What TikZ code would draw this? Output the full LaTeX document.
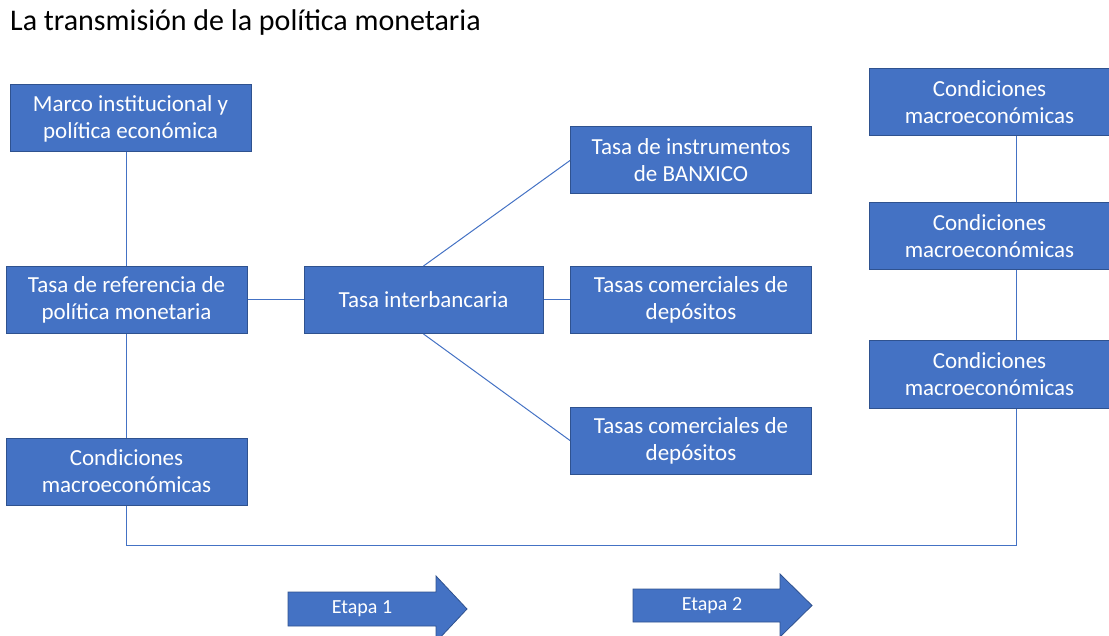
\documentclass[tikz,border=0pt]{standalone}
\usepackage{fontspec}
\setmainfont{Carlito}
\definecolor{boxblue}{HTML}{4472C4}
\definecolor{boxedge}{HTML}{2F528F}
\tikzset{
    box/.style={draw=boxedge, fill=boxblue, text=white, line width=1pt,
        minimum width=241pt, minimum height=67pt, inner sep=2pt,
        align=center, font=\fontsize{23}{27}\selectfont},
    link/.style={draw=boxblue, line width=1pt},
    stage/.style={draw=boxedge, fill=boxblue, line width=0.8pt},
    stagetext/.style={text=white, font=\fontsize{20}{24}\selectfont}
}
\begin{document}
\begin{tikzpicture}[x=1pt, y=-1pt]
        \useasboundingbox (0,0) rectangle (1109,636);

        % Title
        \node[anchor=west, inner sep=0pt, font=\fontsize{30}{35}\selectfont] (title) at (10,23) {La transmisión de la política monetaria};

        % Left column
        \node[box] (marco) at (130.5,118.5) {Marco institucional y\\política económica};
        \node[box] (tref) at (126.5,300) {Tasa de referencia de\\política monetaria};
        \node[box] (condL) at (126.5,471.5) {Condiciones\\macroeconómicas};

        % Middle
        \node[box, minimum width=239pt] (inter) at (423.5,300) {Tasa interbancaria};
        \node[box] (instr) at (691,160.5) {Tasa de instrumentos\\de BANXICO};
        \node[box] (depo1) at (691,300) {Tasas comerciales de\\depósitos};
        \node[box] (depo2) at (691,440.5) {Tasas comerciales de\\depósitos};

        % Right column
        \node[box] (condR1) at (989.5,102.5) {Condiciones\\macroeconómicas};
        \node[box] (condR2) at (989.5,236.5) {Condiciones\\macroeconómicas};
        \node[box] (condR3) at (989.5,374.5) {Condiciones\\macroeconómicas};
        \coordinate (spine) at (1016,0);

        % Connectors
        \draw[link] (tref.north) -- (tref.north |- marco.south);
        \draw[link] (tref.south) -- (condL.north);
        \draw[link] (tref.east) -- (inter.west);
        \draw[link] (inter.east) -- (depo1.west);
        \draw[link] (inter.north) -- (instr.west);
        \draw[link] (inter.south) -- (depo2.west);
        \draw[link] (condR1.south -| spine) -- (condR2.north -| spine);
        \draw[link] (condR2.south -| spine) -- (condR3.north -| spine);
        \draw[link] (condL.south) -- ++(0,40) -| (condR3.south -| spine);

        % Stage arrows
        \draw[stage] (288,592) -- (436,592) -- (436,576) -- (467,609) -- (436,642) -- (436,626) -- (288,626) -- cycle;
        \node[stagetext] (etapa1) at (362,609) {Etapa 1};
        \draw[stage] (633,589) -- (780,589) -- (780,574) -- (812,605.5) -- (780,637) -- (780,622) -- (633,622) -- cycle;
        \node[stagetext] (etapa2) at (712,605.5) {Etapa 2};
\end{tikzpicture}
\end{document}
